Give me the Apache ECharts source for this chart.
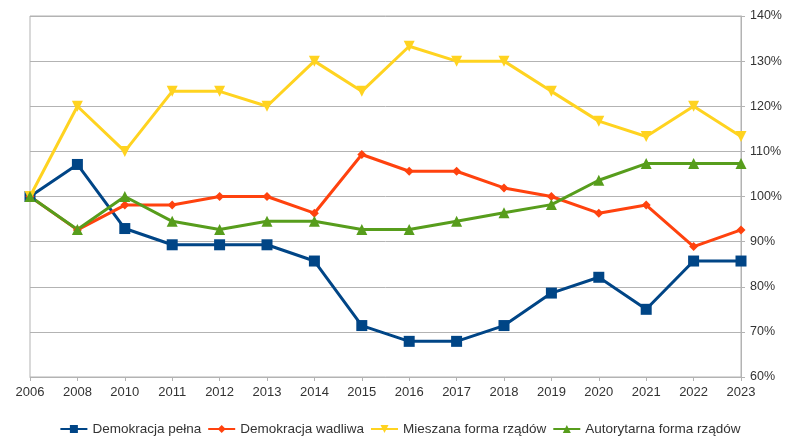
<!DOCTYPE html>
<html>
<head>
<meta charset="utf-8">
<script src="https://cdn.jsdelivr.net/npm/echarts@6/dist/echarts.min.js"></script>
<style>html,body{margin:0;padding:0;background:#fff}#c{width:800px;height:440px}</style>
</head>
<body>
<div id="c"></div>
<script>
const years = ['2006','2008','2010','2011','2012','2013','2014','2015','2016','2017','2018','2019','2020','2021','2022','2023'];
const pelna    = [100, 107.1, 92.9, 89.3, 89.3, 89.3, 85.7, 71.4, 67.9, 67.9, 71.4, 78.6, 82.1, 75.0, 85.7, 85.7];
const wadliwa  = [100, 92.6, 98.1, 98.1, 100, 100, 96.3, 109.3, 105.6, 105.6, 101.9, 100, 96.3, 98.1, 88.9, 92.6];
const mieszana = [100, 120, 110, 123.3, 123.3, 120, 130, 123.3, 133.3, 130, 130, 123.3, 116.7, 113.3, 120, 113.3];
const autoryt  = [100, 92.7, 100, 94.5, 92.7, 94.5, 94.5, 92.7, 92.7, 94.5, 96.4, 98.2, 103.6, 107.3, 107.3, 107.3];
const names = ['Demokracja pełna','Demokracja wadliwa','Mieszana forma rządów','Autorytarna forma rządów'];
const yMin = 60, yMax = 140, yStep = 10;

const chart = echarts.init(document.getElementById('c'));
const font = 'Liberation Sans, Arial, sans-serif';
function s(name, data, color, symbol, size, rot) {
  return {
    name, type: 'line', data, symbol, symbolSize: size, symbolRotate: rot || 0,
    showAllSymbol: true,
    lineStyle: {color, width: 3}, itemStyle: {color}, animation: false,
    emphasis: {disabled: true}
  };
}
chart.setOption({
  animation: false,
  textStyle: {fontFamily: font},
  grid: {left: 30, right: 59, top: 16, bottom: 63, show: true, borderColor: '#b3b3b3', borderWidth: 1},
  legend: {
    bottom: -1, left: 'center', itemWidth: 27, itemHeight: 10, itemGap: 6,
    textStyle: {fontFamily: font, fontSize: 13.5, color: '#333'},
    data: names
  },
  xAxis: {
    type: 'category', data: years, boundaryGap: false,
    axisLine: {lineStyle: {color: '#b3b3b3'}},
    axisTick: {show: true, length: 4, lineStyle: {color: '#b3b3b3'}},
    axisLabel: {color: '#333', fontSize: 13, margin: 9, fontFamily: font, interval: 0},
    splitLine: {show: false}
  },
  yAxis: {
    type: 'value', position: 'right', min: yMin, max: yMax, interval: yStep,
    axisLine: {show: true, lineStyle: {color: '#b3b3b3'}},
    axisTick: {show: true, length: 4, lineStyle: {color: '#b3b3b3'}},
    axisLabel: {color: '#333', fontSize: 12.5, margin: 9, fontFamily: font, formatter: v => v + '%'},
    splitLine: {lineStyle: {color: '#b3b3b3'}}
  },
  series: [
    s(names[0], pelna, '#004586', 'rect', 11),
    s(names[1], wadliwa, '#ff420e', 'diamond', 9),
    s(names[2], mieszana, '#ffd320', 'triangle', 11, 180),
    s(names[3], autoryt, '#579d1c', 'triangle', 11)
  ]
});
</script>
</body>
</html>
